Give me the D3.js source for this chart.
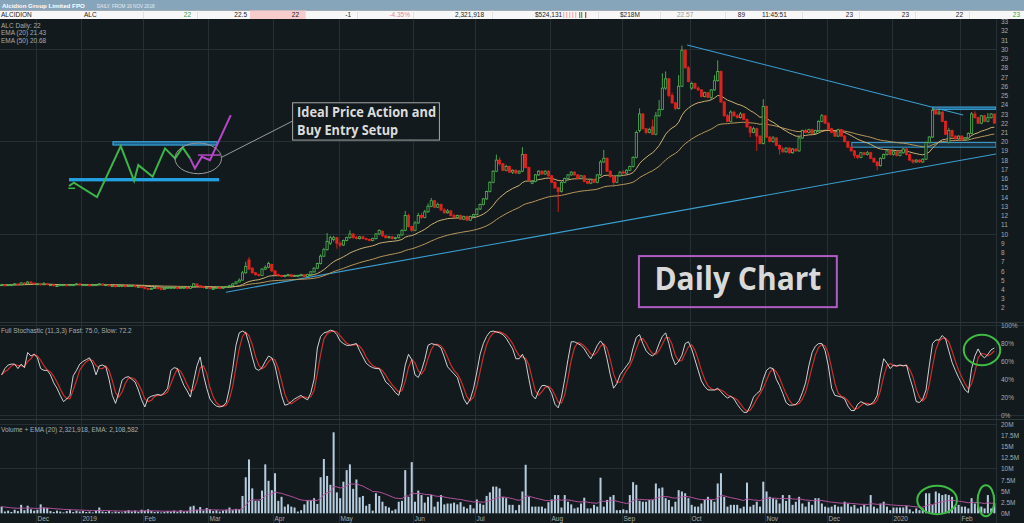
<!DOCTYPE html>
<html>
<head>
<meta charset="utf-8">
<script src="https://cdn.jsdelivr.net/npm/d3@7"></script>
<style>
  body { margin: 0; background: #131a1d; overflow: hidden; }
  svg { display: block; }
  .lbl { font-family: "Liberation Sans", Arial, sans-serif; font-size: 6.5px; fill: #a3acb0; }
</style>
</head>
<body>
<svg id="chart" width="1024" height="523"></svg>
<script>
// ---- data (one value per trading day, Nov 2018 - Feb 2020) ----
var opens = [
  4.5,4.5,4.4,4.5,4.5,4.6,4.5,4.7,4.6,4.8, 4.7,4.6,4.6,4.5,4.6,4.5,4.5,4.4,4.4,4.5,
  4.5,4.4,4.5,4.5,4.6,4.5,4.5,4.5,4.4,4.5, 4.5,4.6,4.5,4.5,4.4,4.4,4.3,4.4,4.4,4.3,
  4.4,4.4,4.3,4.3,4.2,4.1,4.0,4.1,4.2,4.1, 4.0,4.1,4.2,4.2,4.2,4.1,4.2,4.2,4.1,4.3,
  4.6,4.4,4.3,4.2,4.2,4.1,4.1,4.2,4.1,4.2, 4.3,4.4,4.6,4.8,5.0,5.8,7.2,6.3,5.8,5.6,
  5.5,6.2,6.4,6.7,6.0,5.6,5.5,5.4,5.5,5.6, 5.4,5.5,5.5,5.6,5.4,5.6,5.9,6.3,6.8,7.6,
  8.3,9.0,9.4,9.6,9.0,8.8,9.3,9.6,10.0,9.6, 9.5,9.7,9.5,9.4,9.3,9.5,10.0,10.3,9.8,9.6,
  9.7,9.5,9.6,9.9,10.4,12.0,10.8,10.4,11.2,12.0, 11.8,12.4,13.0,13.6,12.9,13.2,12.6,12.3,12.5,12.0,
  11.8,12.0,11.6,11.9,11.5,11.9,12.1,12.7,13.2,13.8, 14.6,15.6,16.8,18.0,17.6,16.9,17.3,16.7,16.9,16.6,
  16.8,18.6,17.2,15.5,15.7,16.4,16.8,16.5,16.8,16.3, 15.6,15.0,14.6,15.6,16.0,16.4,16.7,16.4,16.0,16.3,
  15.7,15.5,15.9,15.6,16.4,17.8,18.2,16.8,16.2,15.6, 16.3,16.7,16.6,16.9,17.3,18.3,21.2,23.0,21.4,21.0,
  21.6,20.8,22.8,23.5,25.8,26.8,25.0,24.2,23.6,26.0, 29.9,28.0,25.8,26.3,25.8,25.6,24.9,25.3,24.8,25.6,
  26.6,27.6,24.3,22.8,22.2,23.2,22.8,22.6,23.0,22.4, 21.6,21.0,21.4,20.6,19.8,23.8,20.5,20.0,20.4,19.6,
  19.2,18.9,19.3,18.8,19.2,19.0,20.4,21.2,21.0,21.3, 20.9,21.2,22.2,22.8,22.0,21.4,21.0,20.6,21.3,20.6,
  20.0,19.4,19.0,18.5,18.3,18.8,18.6,18.8,18.2,17.8, 17.4,18.2,18.6,19.0,18.6,18.9,18.5,18.8,19.2,18.6,
  18.0,17.8,18.0,17.8,18.1,19.9,20.5,23.4,23.0,23.2, 22.2,19.9,21.2,20.6,20.3,20.6,20.2,20.4,20.9,23.0,
  22.6,22.0,22.8,22.2,22.6,23.0
];
var highs = [
  4.6,4.5,4.5,4.6,4.7,4.6,4.8,4.8,4.9,4.9, 4.7,4.7,4.6,4.8,4.7,4.6,4.5,4.5,4.6,4.6,
  4.5,4.6,4.6,4.7,4.6,4.6,4.6,4.5,4.6,4.6, 4.7,4.6,4.6,4.5,4.5,4.4,4.5,4.5,4.4,4.5,
  4.5,4.4,4.4,4.3,4.2,4.1,4.2,4.3,4.2,4.1, 4.2,4.3,4.3,4.3,4.2,4.3,4.3,4.2,4.4,4.7,
  4.6,4.4,4.3,4.3,4.2,4.2,4.3,4.2,4.3,4.4, 4.5,4.7,4.9,5.2,6.0,7.0,7.5,6.4,5.9,5.7,
  6.3,6.6,7.0,6.8,6.1,5.7,5.6,5.6,5.7,5.6, 5.6,5.6,5.7,5.6,5.7,6.0,6.4,6.9,7.8,8.5,
  10.1,9.8,9.8,9.7,9.2,9.4,9.7,10.4,10.1,9.8, 9.8,9.8,9.6,9.5,9.6,10.1,10.5,10.4,9.9,9.8,
  9.8,9.7,10.0,10.5,12.5,12.2,10.9,11.4,12.3,12.3, 12.6,13.3,13.9,13.7,13.4,13.3,12.8,12.7,12.6,12.2,
  12.1,12.1,12.0,12.0,12.0,12.2,12.8,13.3,13.9,14.7, 15.7,16.9,18.6,18.3,17.7,17.5,17.4,17.0,17.0,16.9,
  19.4,18.7,17.3,15.8,16.5,16.9,16.9,16.9,16.9,16.4, 15.7,15.1,15.7,16.1,16.5,16.8,16.8,16.5,16.4,16.4,
  15.8,16.0,16.0,16.5,18.0,19.1,18.3,16.9,16.3,16.4, 16.8,16.9,17.0,17.4,18.4,21.2,23.6,23.1,21.5,21.5,
  22.4,23.2,24.5,27.4,27.6,26.9,25.3,24.3,27.2,30.4, 30.0,28.2,26.5,26.4,26.0,25.7,25.4,25.4,25.7,27.2,
  28.8,27.7,24.4,23.0,23.4,23.3,23.0,23.2,23.1,22.5, 21.7,21.6,21.5,20.7,24.6,23.9,20.6,20.6,20.5,19.7,
  19.4,19.4,19.4,19.3,19.3,20.5,21.3,21.4,21.4,21.4, 21.3,22.3,23.0,22.9,22.1,21.5,21.1,21.4,21.4,20.7,
  20.1,19.5,19.1,18.6,18.9,18.9,19.0,18.9,18.3,17.9, 18.3,18.7,19.1,19.1,19.0,19.0,18.9,19.3,19.3,18.7,
  18.1,18.1,18.1,18.2,20.0,20.6,23.6,23.7,23.6,23.3, 22.3,21.5,21.3,20.7,20.7,20.7,20.5,21.0,23.2,23.3,
  22.7,22.9,22.9,23.1,23.1,23.0
];
var lows = [
  4.4,4.3,4.4,4.4,4.5,4.4,4.5,4.5,4.6,4.6, 4.5,4.5,4.4,4.5,4.5,4.4,4.3,4.3,4.4,4.4,
  4.3,4.4,4.4,4.5,4.4,4.4,4.4,4.3,4.4,4.4, 4.5,4.4,4.4,4.3,4.3,4.2,4.3,4.3,4.2,4.3,
  4.3,4.2,4.2,4.1,4.0,3.9,4.0,4.1,4.0,3.9, 4.0,4.1,4.1,4.1,4.0,4.1,4.1,4.0,4.1,4.3,
  4.3,4.2,4.1,4.1,4.0,4.0,4.1,4.0,4.1,4.2, 4.3,4.4,4.6,4.8,5.0,5.7,6.1,5.7,5.5,5.4,
  5.5,6.1,6.3,5.9,5.5,5.4,5.3,5.3,5.4,5.3, 5.4,5.4,5.4,5.3,5.4,5.6,5.8,6.2,6.7,7.5,
  8.2,8.8,9.2,8.4,8.6,8.7,9.2,9.5,9.5,9.4, 9.4,9.4,9.3,9.2,9.2,9.4,9.9,9.7,9.5,9.5,
  9.4,9.4,9.5,9.8,10.3,10.7,10.2,10.3,11.1,11.6, 11.7,12.3,12.9,12.8,12.8,12.5,12.2,12.2,11.9,11.7,
  11.7,11.5,11.5,11.4,11.4,11.8,12.0,12.6,13.1,13.7, 14.5,15.5,16.7,17.4,16.8,16.8,16.6,16.5,16.5,16.5,
  16.7,17.1,15.7,15.4,15.6,16.3,16.4,16.4,16.2,15.5, 14.9,12.4,14.5,15.5,15.9,16.3,16.3,15.9,15.9,15.6,
  15.4,15.4,15.5,15.5,16.3,17.7,16.7,16.1,15.1,15.5, 16.2,16.5,16.5,16.8,17.2,18.2,21.0,21.3,20.8,20.9,
  20.7,20.7,22.7,23.4,25.6,24.8,24.1,23.4,23.5,25.9, 27.9,26.4,25.6,25.7,25.5,24.8,24.8,24.7,24.5,25.5,
  26.5,24.2,22.7,22.1,22.1,22.7,22.5,22.5,22.3,21.5, 20.5,20.9,19.0,19.7,19.7,20.4,19.9,19.9,19.5,18.6,
  18.8,18.8,18.7,18.7,18.9,18.9,20.3,20.9,20.9,20.8, 20.8,21.1,22.1,21.9,21.3,20.9,20.5,20.5,20.5,19.9,
  19.3,18.9,18.2,18.1,18.2,18.5,18.5,18.1,17.7,16.9, 17.3,18.1,18.5,18.5,18.5,18.4,18.4,18.7,18.5,17.9,
  17.6,17.7,17.7,17.7,18.0,19.8,20.4,22.9,22.9,22.1, 20.7,19.8,20.5,20.2,20.2,20.1,20.1,20.3,20.8,22.5,
  21.9,21.9,22.1,22.1,22.5,22.0
];
var closes = [
  4.5,4.4,4.5,4.5,4.6,4.5,4.7,4.6,4.8,4.7, 4.6,4.6,4.5,4.6,4.5,4.5,4.4,4.4,4.5,4.5,
  4.4,4.5,4.5,4.6,4.5,4.5,4.5,4.4,4.5,4.5, 4.6,4.5,4.5,4.4,4.4,4.3,4.4,4.4,4.3,4.4,
  4.4,4.3,4.3,4.2,4.1,4.0,4.1,4.2,4.1,4.0, 4.1,4.2,4.2,4.2,4.1,4.2,4.2,4.1,4.3,4.6,
  4.4,4.3,4.2,4.2,4.1,4.1,4.2,4.1,4.2,4.3, 4.4,4.6,4.8,5.0,5.8,6.5,6.2,5.8,5.6,5.5,
  6.2,6.4,6.8,6.0,5.6,5.5,5.4,5.5,5.6,5.4, 5.5,5.5,5.6,5.4,5.6,5.9,6.3,6.8,7.6,8.3,
  9.2,9.6,9.6,9.0,8.8,9.3,9.6,10.0,9.6,9.5, 9.7,9.5,9.4,9.3,9.5,10.0,10.4,9.8,9.6,9.7,
  9.5,9.6,9.9,10.4,12.0,10.8,10.4,11.2,12.0,11.8, 12.4,13.0,13.6,12.9,13.2,12.6,12.3,12.5,12.0,11.8,
  12.0,11.6,11.9,11.5,11.9,12.1,12.7,13.2,13.8,14.6, 15.6,16.8,18.0,17.6,16.9,17.3,16.7,16.9,16.6,16.8,
  18.6,17.2,15.8,15.7,16.4,16.8,16.5,16.8,16.3,15.6, 15.0,14.6,15.6,16.0,16.4,16.7,16.4,16.0,16.3,15.7,
  15.5,15.9,15.6,16.4,17.8,18.2,16.8,16.2,15.6,16.3, 16.7,16.6,16.9,17.3,18.3,21.0,23.0,21.4,21.0,21.3,
  20.8,22.8,23.5,25.8,26.8,25.0,24.2,23.6,26.0,29.9, 28.0,26.5,26.3,25.8,25.6,24.9,25.3,24.8,25.6,26.6,
  27.6,24.3,22.8,22.2,23.2,22.8,22.6,23.0,22.4,21.6, 21.0,21.4,20.6,19.8,23.8,20.5,20.0,20.4,19.6,19.2,
  18.9,19.3,18.8,19.2,19.0,20.4,21.2,21.0,21.3,20.9, 21.2,22.2,22.8,22.0,21.4,21.0,20.6,21.3,20.6,20.0,
  19.4,19.0,18.5,18.3,18.8,18.6,18.8,18.2,17.8,17.4, 18.2,18.6,19.0,18.6,18.9,18.5,18.8,19.2,18.6,18.0,
  17.8,18.0,17.8,18.1,19.9,20.5,23.4,23.0,23.2,22.2, 20.8,21.2,20.6,20.3,20.6,20.2,20.4,20.9,23.0,22.6,
  22.0,22.8,22.2,22.6,23.0,22.0
];
// volume in millions of shares
var volumes = [
  1.5,0.4,0.6,0.3,0.8,0.5,1.9,0.7,1.7,0.9, 0.6,0.8,2.0,1.3,1.2,0.5,0.3,0.6,0.4,0.2,
  0.5,0.7,0.3,0.6,0.4,0.5,0.3,0.4,0.2,0.6, 1.3,0.4,0.3,0.5,0.2,0.4,0.3,0.2,0.5,0.7,
  0.4,0.6,0.3,0.8,0.6,0.9,0.5,0.3,0.4,0.2, 0.3,0.5,0.4,0.6,0.3,0.7,0.4,0.5,1.5,1.7,
  0.8,1.4,0.6,1.2,0.9,0.5,0.7,0.4,0.6,0.8, 1.3,0.7,1.0,0.9,3.9,8.1,12.1,5.6,2.8,2.8,
  5.1,11.0,7.3,5.2,9.0,2.8,3.7,1.5,2.0,1.5, 1.3,0.4,0.7,2.0,2.9,2.9,3.4,2.1,8.1,12.2,
  8.4,6.4,18.2,4.7,3.4,7.1,9.7,11.0,5.5,7.6, 3.6,3.9,1.7,2.1,0.6,4.5,3.9,2.6,1.6,1.3,
  0.6,0.9,2.6,2.8,9.7,3.7,11.5,2.6,5.1,4.1, 2.4,3.7,4.1,1.5,2.6,4.1,2.0,2.2,2.2,2.4,
  2.0,2.5,1.5,1.1,1.9,1.1,3.1,2.2,1.9,3.9, 4.7,6.0,6.0,5.6,3.7,3.4,1.9,1.9,0.7,1.9,
  4.9,10.9,3.7,1.5,1.5,1.5,1.5,1.1,2.5,3.1, 4.1,4.1,1.3,4.1,2.6,2.0,1.1,1.3,2.2,3.5,
  1.1,1.1,1.9,1.5,8.0,1.5,3.0,3.7,4.1,0.7, 0.7,0.9,0.7,4.1,7.0,6.4,2.8,2.6,2.6,3.0,
  3.0,6.7,5.6,5.8,3.4,3.0,1.5,2.6,5.2,4.9, 4.5,3.4,1.9,1.5,1.5,2.2,3.0,3.7,3.0,2.6,
  6.7,9.0,3.7,1.5,1.9,1.9,1.9,1.1,1.5,6.9, 1.5,1.9,2.6,1.5,7.1,4.9,3.7,3.4,3.1,2.2,
  4.1,2.8,4.1,1.9,2.6,3.7,2.2,1.5,2.6,1.9, 3.4,3.4,2.2,1.5,1.3,1.5,1.9,1.5,1.5,2.6,
  2.2,1.5,1.9,1.1,1.5,1.9,1.5,4.1,1.5,1.1, 2.2,2.6,1.5,0.7,1.3,1.3,1.3,1.3,1.7,0.9,
  0.4,1.1,0.7,1.1,4.5,4.5,1.9,4.9,4.5,4.1, 4.3,4.1,3.7,1.5,1.9,1.5,1.5,1.1,3.4,2.2,
  1.9,1.5,1.1,4.1,1.1,2.3
];
// full stochastic (11,3,3), fast line in %
var stochFast = [
  45,52,56,57,57,52,57,53,70,66, 68,64,52,50,50,45,36,30,22,15,
  18,22,44,50,57,60,62,64,57,45, 55,56,54,40,22,13,25,39,42,43,
  40,37,28,17,9,19,21,22,23,22, 25,30,50,53,52,42,33,27,20,38,
  55,65,45,30,18,13,10,9,10,14, 30,52,78,92,94,92,80,65,52,50,
  53,60,66,64,55,38,22,11,12,15, 18,20,22,19,17,25,40,75,88,92,
  93,95,94,90,83,80,78,78,79,80, 72,65,58,55,53,52,52,45,37,34,
  30,25,22,35,56,68,62,45,42,50, 62,78,80,79,78,75,65,54,50,46,
  42,30,18,12,18,30,48,68,80,88, 93,94,93,92,90,86,80,74,63,63,
  68,60,40,22,18,27,33,33,31,24, 12,8,20,40,62,82,82,80,78,74,
  68,63,70,78,83,78,63,45,30,35, 45,50,55,60,75,87,90,80,72,68,
  66,70,80,88,92,80,65,56,60,67, 80,82,74,62,50,38,32,28,28,28,
  30,26,22,19,21,18,12,7,3,3, 10,20,24,27,40,50,53,52,40,33,
  24,14,11,11,12,16,25,36,55,70, 77,80,80,72,55,30,22,21,20,18,
  10,5,5,12,15,13,11,12,15,22, 45,63,58,52,56,55,56,55,56,42,
  30,15,14,18,28,55,80,84,84,89, 85,72,59,50,42,35,28,25,52,66,
  74,67,64,68,73,75
];
// first trading day (bar index) of each month on the time axis
var monthStarts = [11, 25, 44, 64, 84, 104, 127, 146, 169, 191, 212, 235, 254, 274, 295];
var monthLabels = ["Dec", "2019", "Feb", "Mar", "Apr", "May", "Jun", "Jul", "Aug", "Sep", "Oct", "Nov", "Dec", "2020", "Feb"];
var priceTicks = d3.range(2, 34);
var priceGrid = [10, 20, 30];
var stochTicks = [0, 20, 40, 60, 80, 100];
var volTicks = [0, 2.5, 5, 7.5, 10, 12.5, 15, 17.5, 20];
var volGrid = [10, 20];

var headerValues = ["ALCIDION", "ALC", "22", "22.5", "22", "-1", "-4.35%", "2,321,918", "$524,131", "$218M", "22.57", "89", "11:45:51", "23", "23", "22", "23"];
var legendLines = ["ALC Daily: 22", "EMA (20) 21.43", "EMA (50) 20.68"];

// drawn-on annotations, in (bar index, value) units
var trendLines = [[[68.9, 3.70], [305.5, 18.66]], [[210.6, 30.47], [295.4, 22.88]]];
var setupZigzag = [[20.7, 15.2], [22.2, 15.55], [29.3, 14.0], [36.6, 19.52], [40.7, 15.76], [42.0, 17.46],
                   [46.4, 16.2], [50.2, 19.27], [53.3, 18.19], [55.6, 19.38], [57.9, 18.19]];
var setupBreakout = [[57.9, 18.19], [59.4, 17.11], [61.5, 18.36], [64.0, 18.0], [70.4, 22.88]];


var W = 1024, H = 523, plotR = 996;
var bg = "#131a1d", gridCol = "#253034", textCol = "#a3acb0";
var upCol = "#4fb453", downCol = "#e0221e", lineBlue = "#3a9fd2";

var svg = d3.select("#chart");
svg.append("rect").attr("width", W).attr("height", H).attr("fill", bg);

var x = d3.scaleLinear().domain([-0.5, closes.length - 0.5]).range([0, plotR]);
var yP = d3.scaleLinear().domain([10, 30]).range([234, 49.3]);
var yS = d3.scaleLinear().domain([0, 100]).range([415, 325.7]);
var yV = d3.scaleLinear().domain([0, 20]).range([513.3, 424.3]);
var idx = d3.range(closes.length);

function ema(arr, n) {
  var k = 2 / (n + 1), out = [], p = arr[0];
  arr.forEach(function(v, i) { p = i ? v * k + p * (1 - k) : v; out.push(p); });
  return out;
}
var ema20 = ema(closes, 20), ema50 = ema(closes, 50), volEma = ema(volumes, 20);
// slow line = 3 period average of the fast line
var stochSlow = stochFast.map(function(v, i) {
  var s = stochFast.slice(Math.max(0, i - 2), i + 1);
  return d3.mean(s);
});

// clip regions for the three panels
var defs = svg.append("defs");
[["cp", 19, 303], ["cs", 323, 96], ["cv", 420, 94]].forEach(function(c) {
  defs.append("clipPath").attr("id", c[0]).append("rect")
    .attr("x", 0).attr("y", c[1]).attr("width", plotR).attr("height", c[2]);
});

// grid
var grid = svg.append("g").attr("shape-rendering", "crispEdges").attr("stroke", gridCol).attr("stroke-width", 1);
grid.selectAll(".vg").data(monthStarts).enter().append("line")
  .attr("x1", function(d) { return Math.round(x(d - 0.5)) + 0.5; })
  .attr("x2", function(d) { return Math.round(x(d - 0.5)) + 0.5; })
  .attr("y1", 19).attr("y2", H);
grid.selectAll(".pg").data(priceGrid).enter().append("line")
  .attr("x1", 0).attr("x2", plotR).attr("y1", function(d) { return yP(d); }).attr("y2", function(d) { return yP(d); });
grid.selectAll(".sg").data([0, 100]).enter().append("line")
  .attr("x1", 0).attr("x2", W).attr("y1", function(d) { return yS(d); }).attr("y2", function(d) { return yS(d); });
grid.selectAll(".vvg").data(volGrid).enter().append("line")
  .attr("x1", 0).attr("x2", plotR).attr("y1", function(d) { return yV(d); }).attr("y2", function(d) { return yV(d); });
grid.append("line").attr("x1", plotR + 0.5).attr("x2", plotR + 0.5).attr("y1", 19).attr("y2", H);
[322, 419].forEach(function(yy) {
  grid.append("line").attr("x1", 0).attr("x2", W).attr("y1", yy + 0.5).attr("y2", yy + 0.5).attr("stroke", "#2c373c");
});

// ---- price panel ----
var pricePanel = svg.append("g").attr("clip-path", "url(#cp)");

pricePanel.selectAll(".tl").data(trendLines).enter().append("line")
  .attr("x1", function(d) { return x(d[0][0]); }).attr("y1", function(d) { return yP(d[0][1]); })
  .attr("x2", function(d) { return x(d[1][0]); }).attr("y2", function(d) { return yP(d[1][1]); })
  .attr("stroke", lineBlue).attr("stroke-width", 1.1);

// support / resistance boxes on the right
pricePanel.append("rect")
  .attr("x", x(261.2)).attr("width", plotR - x(261.2))
  .attr("y", yP(19.9)).attr("height", yP(19.4) - yP(19.9))
  .attr("fill", "rgba(40,110,160,0.25)").attr("stroke", lineBlue).attr("stroke-width", 1);
pricePanel.append("rect")
  .attr("x", x(286.1)).attr("width", plotR - x(286.1))
  .attr("y", yP(23.75)).attr("height", yP(23.5) - yP(23.75))
  .attr("fill", "#1d5a82").attr("stroke", "#3eaee4").attr("stroke-width", 1);

var emaLine = d3.line().x(function(d, i) { return x(i); }).y(function(d) { return yP(d); });
pricePanel.append("path").datum(ema50).attr("d", emaLine)
  .attr("fill", "none").attr("stroke", "#b8965a").attr("stroke-width", 1);
pricePanel.append("path").datum(ema20).attr("d", emaLine)
  .attr("fill", "none").attr("stroke", "#cdb074").attr("stroke-width", 1);

var bw = 2.2;
function isUp(i) { return closes[i] >= opens[i]; }
pricePanel.selectAll(".wick").data(idx).enter().append("line")
  .attr("x1", function(i) { return x(i); }).attr("x2", function(i) { return x(i); })
  .attr("y1", function(i) { return yP(highs[i]); }).attr("y2", function(i) { return yP(lows[i]); })
  .attr("stroke", function(i) { return isUp(i) ? upCol : downCol; }).attr("stroke-width", 0.9);
pricePanel.selectAll(".body").data(idx).enter().append("rect")
  .attr("x", function(i) { return x(i) - bw / 2; })
  .attr("width", bw)
  .attr("y", function(i) { return yP(Math.max(opens[i], closes[i])); })
  .attr("height", function(i) { return Math.max(0.9, Math.abs(yP(opens[i]) - yP(closes[i]))); })
  .attr("fill", function(i) { return isUp(i) ? bg : downCol; })
  .attr("stroke", function(i) { return isUp(i) ? upCol : downCol; })
  .attr("stroke-width", 0.8);

// the "ideal setup" sketch, top left
var sketch = svg.append("g");
var sk = d3.line().x(function(d) { return x(d[0]); }).y(function(d) { return yP(d[1]); });
sketch.append("rect")
  .attr("x", x(34.2)).attr("width", x(66.2) - x(34.2))
  .attr("y", yP(19.99)).attr("height", yP(19.63) - yP(19.99))
  .attr("fill", "#1d5f8c").attr("stroke", "#3eb4ea").attr("stroke-width", 1);
sketch.append("rect")
  .attr("x", x(20.7)).attr("width", x(66.8) - x(20.7))
  .attr("y", yP(16.06)).attr("height", yP(15.70) - yP(16.06))
  .attr("fill", "#22a2e2");
sketch.append("path").datum(setupZigzag).attr("d", sk)
  .attr("fill", "none").attr("stroke", "#3cb54a").attr("stroke-width", 2).attr("stroke-linejoin", "miter");
sketch.append("line")
  .attr("x1", x(20.5)).attr("x2", x(22.6)).attr("y1", yP(14.95)).attr("y2", yP(14.95))
  .attr("stroke", "#3cb54a").attr("stroke-width", 1.5);
sketch.append("line")
  .attr("x1", x(60.3)).attr("x2", x(67.1)).attr("y1", yP(18.55)).attr("y2", yP(18.55))
  .attr("stroke", "#b548c6").attr("stroke-width", 1.5);
sketch.append("path").datum(setupBreakout).attr("d", sk)
  .attr("fill", "none").attr("stroke", "#b548c6").attr("stroke-width", 2);
sketch.append("ellipse")
  .attr("cx", x(60.4)).attr("cy", yP(18.19))
  .attr("rx", x(67.56) - x(60.4)).attr("ry", yP(16.53) - yP(18.19))
  .attr("fill", "none").attr("stroke", "#9a9a9a").attr("stroke-width", 1);
sketch.append("line")
  .attr("x1", x(67.7)).attr("y1", yP(18.33)).attr("x2", x(89.4)).attr("y2", yP(22.23))
  .attr("stroke", "#9a9a9a").attr("stroke-width", 1);
sketch.append("rect")
  .attr("x", x(89.4)).attr("width", x(134.5) - x(89.4))
  .attr("y", yP(24.21)).attr("height", yP(20.17) - yP(24.21))
  .attr("fill", bg).attr("stroke", "#a8a8a8").attr("stroke-width", 1);
sketch.append("text").attr("x", x(89.4) + 4.5).attr("y", 116.5)
  .attr("textLength", 139).attr("lengthAdjust", "spacingAndGlyphs")
  .style("font-family", "'Open Sans', sans-serif").style("font-weight", 700).style("font-size", "14px")
  .attr("fill", "#dcdcdc").text("Ideal Price Action and");
sketch.append("text").attr("x", x(89.4) + 4.5).attr("y", 134.5)
  .attr("textLength", 101).attr("lengthAdjust", "spacingAndGlyphs")
  .style("font-family", "'Open Sans', sans-serif").style("font-weight", 700).style("font-size", "14px")
  .attr("fill", "#dcdcdc").text("Buy Entry Setup");

// "Daily Chart" tag
svg.append("rect")
  .attr("x", x(195.8)).attr("width", x(256.6) - x(195.8))
  .attr("y", yP(7.61)).attr("height", yP(2.08) - yP(7.61))
  .attr("fill", "none").attr("stroke", "#b05cc4").attr("stroke-width", 2);
svg.append("text").attr("x", (x(195.8) + x(256.6)) / 2).attr("y", 290)
  .attr("text-anchor", "middle").attr("textLength", 167).attr("lengthAdjust", "spacingAndGlyphs")
  .style("font-family", "'Open Sans', sans-serif").style("font-weight", 700).style("font-size", "33px")
  .attr("fill", "#d9d9d9").text("Daily Chart");

// ---- stochastic panel ----
var stPanel = svg.append("g").attr("clip-path", "url(#cs)");
var stLine = d3.line().x(function(d, i) { return x(i); }).y(function(d) { return yS(d); });
stPanel.append("path").datum(stochSlow).attr("d", stLine)
  .attr("fill", "none").attr("stroke", "#c8302c").attr("stroke-width", 1.2);
stPanel.append("path").datum(stochFast).attr("d", stLine)
  .attr("fill", "none").attr("stroke", "#e4e4e4").attr("stroke-width", 0.9);
svg.append("ellipse")
  .attr("cx", x(301.2)).attr("cy", yS(72.8))
  .attr("rx", x(306.8) - x(301.2)).attr("ry", yS(55.7) - yS(72.8))
  .attr("fill", "none").attr("stroke", "#3dbb45").attr("stroke-width", 2);

// ---- volume panel ----
var vPanel = svg.append("g").attr("clip-path", "url(#cv)");
vPanel.selectAll(".vb").data(idx).enter().append("rect")
  .attr("x", function(i) { return x(i) - 1; })
  .attr("width", 2)
  .attr("y", function(i) { return yV(volumes[i]); })
  .attr("height", function(i) { return yV(0) - yV(volumes[i]); })
  .attr("fill", "#b6cde0");
vPanel.append("path").datum(volEma)
  .attr("d", d3.line().x(function(d, i) { return x(i); }).y(function(d) { return yV(d); }))
  .attr("fill", "none").attr("stroke", "#b2509f").attr("stroke-width", 1);
[[287.4, 3.0, 6.1, 3.2], [302.4, 2.83, 2.55, 3.5]].forEach(function(e) {
  svg.append("ellipse")
    .attr("cx", x(e[0])).attr("cy", yV(e[1]))
    .attr("rx", x(e[0] + e[2]) - x(e[0])).attr("ry", yV(e[1] - e[3]) - yV(e[1]))
    .attr("fill", "none").attr("stroke", "#3dbb45").attr("stroke-width", 2);
});

// ---- right-hand axes ----
function rightAxis(scale, ticks, fmt) {
  var g = svg.append("g").attr("transform", "translate(" + plotR + ",0)")
    .call(d3.axisRight(scale).tickValues(ticks).tickSize(0).tickPadding(5).tickFormat(fmt));
  g.select(".domain").remove();
  g.selectAll("text").attr("class", "lbl").attr("fill", null).style("font-size", null).style("font-family", null);
  g.attr("font-size", null).attr("font-family", null);
}
rightAxis(yP, priceTicks, function(d) { return d; });
rightAxis(yS, stochTicks, function(d) { return d + "%"; });
rightAxis(yV, volTicks, function(d) { return d + "M"; });

// time axis labels
svg.selectAll(".ml").data(monthStarts).enter().append("text")
  .attr("class", "lbl")
  .attr("x", function(d) { return Math.round(x(d - 0.5)) + 1.5; })
  .attr("y", 521)
  .text(function(d, i) { return monthLabels[i]; });

// panel captions
svg.selectAll(".lg").data(legendLines).enter().append("text")
  .attr("class", "lbl").attr("x", 1).attr("y", function(d, i) { return 27.5 + i * 7.5; }).text(function(d) { return d; });
svg.append("text").attr("class", "lbl").attr("x", 1).attr("y", 332.5)
  .text("Full Stochastic (11,3,3) Fast: 75.0, Slow: 72.2");
svg.append("text").attr("class", "lbl").attr("x", 1).attr("y", 431.5)
  .text("Volume + EMA (20) 2,321,918, EMA: 2,108,582");

// ---- quote header ----
svg.append("rect").attr("x", 0).attr("y", 0).attr("width", W).attr("height", 10.5).attr("fill", "#86a4ba");
svg.append("text").attr("x", 2).attr("y", 8)
  .style("font-family", "'Liberation Sans', Arial, sans-serif").style("font-weight", 700).style("font-size", "6.2px")
  .attr("fill", "#ffffff").text("Alcidion Group Limited FPO");
svg.append("text").attr("x", 97).attr("y", 7.5)
  .style("font-family", "'Liberation Sans', Arial, sans-serif").style("font-size", "4.6px")
  .attr("fill", "#e8eef3").text("DAILY, FROM 16 NOV 2018");

svg.append("rect").attr("x", 0).attr("y", 10.5).attr("width", W).attr("height", 8.5).attr("fill", "#f7f7f7");
svg.append("rect").attr("x", 250).attr("y", 10.5).attr("width", 55).attr("height", 8.5).attr("fill", "#f6cccc");
var seps = [143, 197, 305, 357, 413, 492, 598, 660, 725, 802, 859, 915, 969];
svg.selectAll(".hs").data(seps).enter().append("line")
  .attr("x1", function(d) { return d + 0.5; }).attr("x2", function(d) { return d + 0.5; })
  .attr("y1", 10.5).attr("y2", 19).attr("stroke", "#e2e2e2");
var spark = [["#f3b4b4", 563], ["#f3b4b4", 566], ["#f3b4b4", 569], ["#f3b4b4", 572], ["#f3b4b4", 575],
             ["#4caa4c", 579], ["#4caa4c", 581], ["#d84040", 585]];
spark.forEach(function(s) {
  svg.append("rect").attr("x", s[1]).attr("y", 12).attr("width", 1.3).attr("height", 6).attr("fill", s[0]);
});
var headerPos = [[1, "start"], [84, "start"], [191, "end"], [247, "end"], [299, "end"], [351, "end"], [410, "end"],
                 [484, "end"], [535, "start"], [620, "start"], [677, "start"], [745, "end"], [762, "start"],
                 [853, "end"], [909, "end"], [963, "end"], [1020, "end"]];
var headerCol = { 2: "#3a9a3a", 6: "#e08a8a", 10: "#9a9a9a", 16: "#3a9a3a" };
svg.selectAll(".hv").data(headerValues).enter().append("text")
  .attr("x", function(d, i) { return headerPos[i][0]; })
  .attr("y", 17.3)
  .attr("text-anchor", function(d, i) { return headerPos[i][1]; })
  .style("font-family", "'Liberation Sans', Arial, sans-serif").style("font-size", "6.5px")
  .attr("fill", function(d, i) { return headerCol[i] || "#222"; })
  .text(function(d) { return d; });
</script>
</body>
</html>
